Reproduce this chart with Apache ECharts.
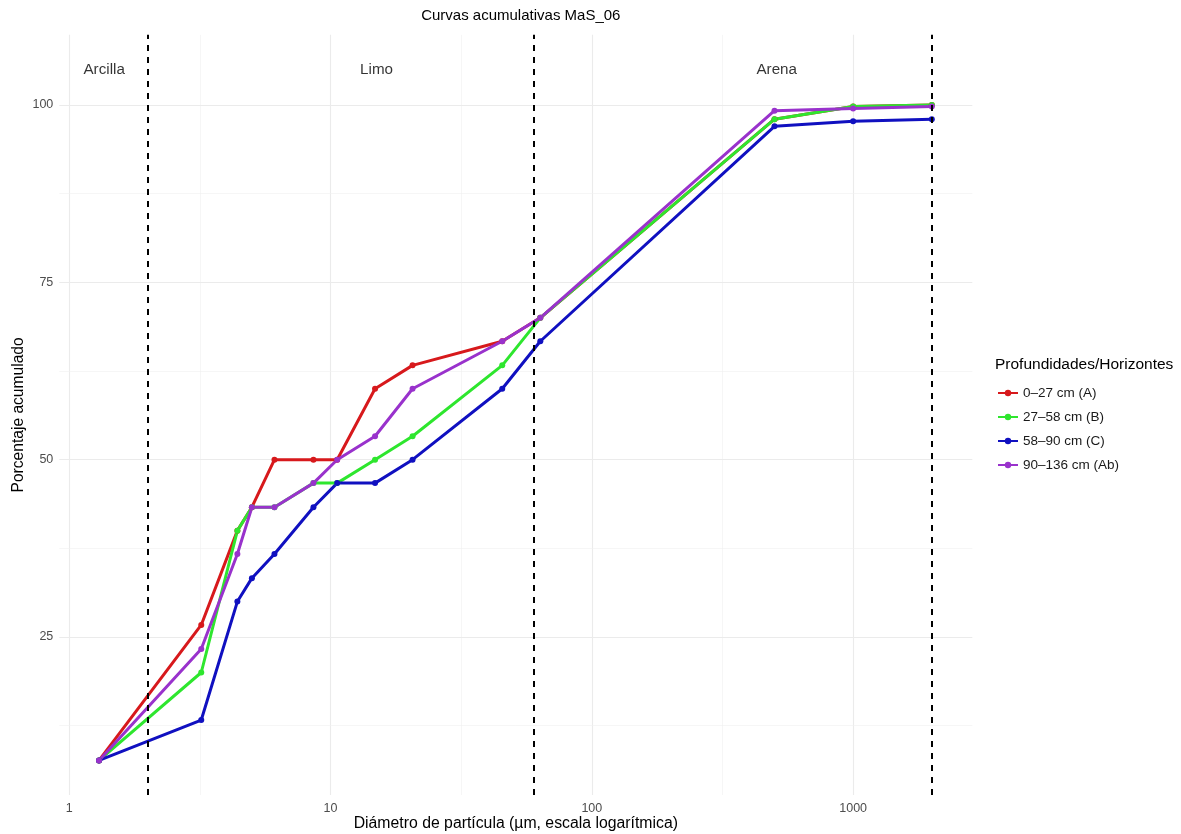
<!DOCTYPE html>
<html>
<head>
<meta charset="utf-8">
<script src="https://cdn.jsdelivr.net/npm/echarts@6/dist/echarts.min.js"></script>
<style>
html,body{margin:0;padding:0;background:#fff;}
#chart{width:1181px;height:834px;}
</style>
</head>
<body>
<div id="chart"></div>
<script>
// ---- data ----
const diameters = [1.3, 3.2, 4.4, 5.0, 6.1, 8.6, 10.6, 14.8, 20.6, 45.4, 63.5, 500, 1000, 2000];
const seriesNames = ['0\u201327 cm (A)', '27\u201358 cm (B)', '58\u201390 cm (C)', '90\u2013136 cm (Ab)'];
const valsA  = [7.6, 26.7, 40.0, 43.3, 50.0, 50.0, 50.0, 60.0, 63.3, 66.7, 70.0, 98.0, 99.8, 100.0];
const valsB  = [7.6, 20.0, 40.0, 43.3, 43.3, 46.7, 46.7, 50.0, 53.3, 63.3, 70.0, 98.0, 99.8, 100.0];
const valsC  = [7.6, 13.3, 30.0, 33.3, 36.7, 43.3, 46.7, 46.7, 50.0, 60.0, 66.7, 97.0, 97.7, 98.0];
const valsAb = [7.6, 23.3, 36.7, 43.3, 43.3, 46.7, 50.0, 53.3, 60.0, 66.7, 70.0, 99.2, 99.5, 99.8];
const xTicks = [1, 10, 100, 1000];
const xMinorTicks = [3.1623, 31.623, 316.23];
const yTicks = [25, 50, 75, 100];
const yMinorTicks = [12.5, 37.5, 62.5, 87.5];
const boundaries = [2, 60, 2000];
const regionLabels = ['Arcilla', 'Limo', 'Arena'];
const regionX = [1.36, 15, 510];
const regionY = 105;

// ---- styles ----
const colors = ['#D7191C', '#2EE62E', '#1010C0', '#9932CC'];
const FONT = 'Liberation Sans, Arial, sans-serif';
const allVals = [valsA, valsB, valsC, valsAb];

const chart = echarts.init(document.getElementById('chart'), null, {renderer: 'canvas'});

const gridLines = [];
xTicks.forEach(v => gridLines.push({xAxis: v, lineStyle: {color: '#ebebeb', width: 1.1, type: 'solid'}}));
xMinorTicks.forEach(v => gridLines.push({xAxis: v, lineStyle: {color: '#f0f0f0', width: 0.6, type: 'solid'}}));
yTicks.forEach(v => gridLines.push({yAxis: v, lineStyle: {color: '#ebebeb', width: 1.1, type: 'solid'}}));
yMinorTicks.forEach(v => gridLines.push({yAxis: v, lineStyle: {color: '#f0f0f0', width: 0.6, type: 'solid'}}));

const lineSeries = seriesNames.map((name, i) => ({
  name: name,
  type: 'line',
  z: 3,
  data: diameters.map((d, j) => [d, allVals[i][j]]),
  color: colors[i],
  lineStyle: {width: 3, color: colors[i]},
  itemStyle: {color: colors[i]},
  symbol: 'circle',
  symbolSize: 6,
  showSymbol: true,
  animation: false,
  emphasis: {disabled: true}
}));

const option = {
  animation: false,
  backgroundColor: '#ffffff',
  title: [{
    text: 'Curvas acumulativas MaS_06',
    left: 515.8, top: 3, textAlign: 'center',
    textStyle: {fontFamily: FONT, fontSize: 15, fontWeight: 'normal', color: '#000'}
  }, {
    text: 'Profundidades/Horizontes',
    left: 990, top: 352,
    textStyle: {fontFamily: FONT, fontSize: 15.5, fontWeight: 'normal', color: '#000'}
  }],
  grid: {left: 59.3, right: 208.7, top: 34.8, bottom: 39, containLabel: false, outerBoundsMode: 'none'},
  legend: {
    orient: 'vertical',
    left: 992, top: 381,
    itemWidth: 20, itemHeight: 8, itemGap: 10,
    data: seriesNames,
    textStyle: {fontFamily: FONT, fontSize: 13.5, color: '#1a1a1a'},
    selectedMode: false
  },
  xAxis: {
    type: 'log', logBase: 10,
    min: 0.916, max: 2858,
    name: 'Di\u00e1metro de part\u00edcula (\u00b5m, escala logar\u00edtmica)',
    nameLocation: 'middle', nameGap: 21, nameMoveOverlap: false,
    nameTextStyle: {fontFamily: FONT, fontSize: 15.8, color: '#000'},
    axisLine: {show: false}, axisTick: {show: false},
    splitLine: {show: false}, minorSplitLine: {show: false},
    axisLabel: {
      customValues: xTicks,
      fontFamily: FONT, fontSize: 12.5, color: '#4d4d4d', margin: 7,
      formatter: v => String(Math.round(v))
    }
  },
  yAxis: {
    type: 'value', min: 2.73, max: 109.9,
    name: 'Porcentaje acumulado',
    nameLocation: 'middle', nameGap: 33, nameRotate: 90, nameMoveOverlap: false,
    nameTextStyle: {fontFamily: FONT, fontSize: 15.6, color: '#000'},
    axisLine: {show: false}, axisTick: {show: false},
    splitLine: {show: false},
    axisLabel: {
      customValues: yTicks,
      fontFamily: FONT, fontSize: 12.5, color: '#4d4d4d', margin: 6,
      formatter: v => String(Math.round(v))
    }
  },
  series: [
    {
      name: '__grid',
      type: 'scatter',
      z: 1,
      silent: true,
      symbolSize: 0,
      data: regionLabels.map((t, i) => [regionX[i], regionY, t]),
      label: {
        show: true, position: 'inside',
        formatter: p => p.data[2],
        fontFamily: FONT, fontSize: 15.2, color: '#000'
      },
      markLine: {
        z: 1,
        silent: true, symbol: ['none', 'none'], label: {show: false},
        animation: false, emphasis: {disabled: true},
        data: gridLines
      }
    },
    ...lineSeries,
    {
      name: '__bounds',
      type: 'scatter',
      z: 5,
      silent: true,
      symbolSize: 0,
      data: [[boundaries[0], 50]],
      markLine: {
        z: 6,
        silent: true, symbol: ['none', 'none'], label: {show: false},
        animation: false, emphasis: {disabled: true},
        lineStyle: {color: '#000', width: 2, type: [6, 6]},
        data: boundaries.map(b => ({xAxis: b}))
      }
    }
  ]
};
chart.setOption(option);
</script>
</body>
</html>
